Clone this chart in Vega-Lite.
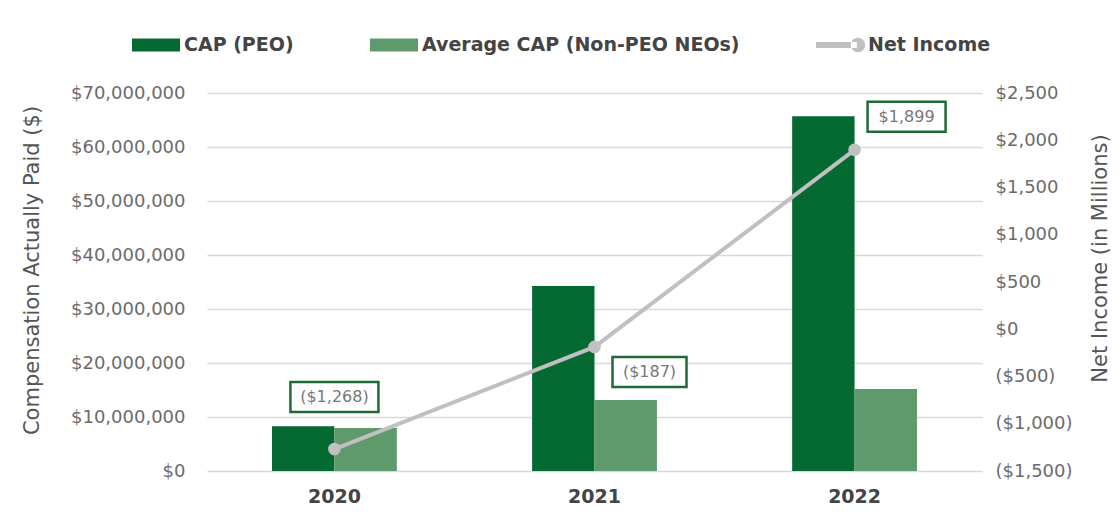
{
  "$schema": "https://vega.github.io/schema/vega-lite/v6.json",
  "width": 775,
  "height": 378,
  "autosize": {"type": "none"},
  "padding": {"left": 207, "top": 93, "right": 138, "bottom": 52},
  "background": "white",
  "config": {
    "font": "DejaVu Sans",
    "view": {"stroke": null},
    "axis": {"domain": false, "ticks": false, "labelColor": "#6b6b6b", "titleColor": "#555555", "labelFontWeight": "normal", "titleFontWeight": "normal"}
  },
  "datasets": {
    "cap": [
      {"year": "2020", "series": "CAP (PEO)", "cap": 8300000},
      {"year": "2020", "series": "Average CAP (Non-PEO NEOs)", "cap": 7950000},
      {"year": "2021", "series": "CAP (PEO)", "cap": 34250000},
      {"year": "2021", "series": "Average CAP (Non-PEO NEOs)", "cap": 13150000},
      {"year": "2022", "series": "CAP (PEO)", "cap": 65700000},
      {"year": "2022", "series": "Average CAP (Non-PEO NEOs)", "cap": 15200000}
    ],
    "ni": [
      {"year": "2020", "series": "Net Income", "ni": -1268, "label": "($1,268)"},
      {"year": "2021", "series": "Net Income", "ni": -187, "label": "($187)"},
      {"year": "2022", "series": "Net Income", "ni": 1899, "label": "$1,899"}
    ]
  },
  "layer": [
    {
      "data": {"name": "cap"},
      "mark": {"type": "bar"},
      "encoding": {
        "x": {
          "field": "year", "type": "nominal",
          "scale": {"paddingInner": 0.52, "paddingOuter": 0.25},
          "axis": {"title": null, "labelAngle": 0, "grid": false, "labelFontSize": 19, "labelFontWeight": "bold", "labelColor": "#444444", "labelPadding": 16}
        },
        "xOffset": {"field": "series", "type": "nominal", "sort": ["CAP (PEO)", "Average CAP (Non-PEO NEOs)"]},
        "y": {
          "field": "cap", "type": "quantitative",
          "scale": {"domain": [0, 70000000], "nice": false},
          "axis": {
            "orient": "left",
            "values": [0, 10000000, 20000000, 30000000, 40000000, 50000000, 60000000, 70000000],
            "labelExpr": "'$' + format(datum.value, ',')",
            "labelFontSize": 18, "labelPadding": 22,
            "grid": true, "gridColor": "#d9d9d9", "gridWidth": 1.5,
            "title": "Compensation Actually Paid ($)", "titleFontSize": 21, "titlePadding": 28, "titleY": 177
          }
        },
        "color": {
          "field": "series", "type": "nominal",
          "scale": {"domain": ["CAP (PEO)", "Average CAP (Non-PEO NEOs)", "Net Income"], "range": ["#056a31", "#5f9a6d", "#c0c0c0"]},
          "legend": {
            "orient": "none", "legendX": -75, "legendY": -72, "direction": "horizontal", "title": null,
            "labelFontSize": 19, "labelFontWeight": "bold", "labelColor": "#444444", "labelLimit": 0,
            "symbolSize": 2304, "columnPadding": 76, "labelOffset": 4,
            "encode": {
              "symbols": {
                "update": {
                  "shape": {"signal": "datum.value === 'Net Income' ? 'M-1,-0.12H0.7V0.12H-1Z M0.45,0 a0.3,0.3 0 1,0 0.6,0 a0.3,0.3 0 1,0 -0.6,0Z' : 'M-1,-0.27H1V0.27H-1Z'"},
                  "fill": {"scale": "color", "field": "value"},
                  "stroke": {"value": "transparent"},
                  "strokeWidth": {"value": 0},
                  "opacity": {"value": 1}
                }
              }
            }
          }
        }
      }
    },
    {
      "data": {"name": "ni"},
      "encoding": {
        "x": {"field": "year", "type": "nominal"},
        "y": {
          "field": "ni", "type": "quantitative",
          "scale": {"domain": [-1500, 2500], "nice": false},
          "axis": {
            "orient": "right",
            "values": [-1500, -1000, -500, 0, 500, 1000, 1500, 2000, 2500],
            "labelExpr": "datum.value < 0 ? '($' + format(-datum.value, ',') + ')' : '$' + format(datum.value, ',')",
            "labelFontSize": 18, "labelPadding": 13, "grid": false,
            "title": "Net Income (in Millions)", "titleFontSize": 21, "titleAngle": 270, "titlePadding": 38, "titleY": 165
          }
        }
      },
      "layer": [
        {
          "mark": {"type": "line", "strokeWidth": 4, "point": {"filled": true, "size": 160}},
          "encoding": {"color": {"field": "series", "type": "nominal"}}
        },
        {
          "transform": [{"filter": "datum.year == '2020'"}],
          "mark": {"type": "point", "shape": "M-2.2,-0.75H2.2V0.75H-2.2Z", "size": 1600, "filled": true, "fill": "white", "stroke": "#1f6b36", "strokeWidth": 2.5, "opacity": 1, "xOffset": 0, "yOffset": -52}
        },
        {
          "transform": [{"filter": "datum.year == '2020'"}],
          "mark": {"type": "text", "fontSize": 16, "color": "#777777", "dx": 0, "dy": -52, "align": "center", "baseline": "middle"},
          "encoding": {"text": {"field": "label"}}
        },
        {
          "transform": [{"filter": "datum.year == '2021'"}],
          "mark": {"type": "point", "shape": "M-1.85,-0.75H1.85V0.75H-1.85Z", "size": 1600, "filled": true, "fill": "white", "stroke": "#1f6b36", "strokeWidth": 2.5, "opacity": 1, "xOffset": 55, "yOffset": 25}
        },
        {
          "transform": [{"filter": "datum.year == '2021'"}],
          "mark": {"type": "text", "fontSize": 16, "color": "#777777", "dx": 55, "dy": 25, "align": "center", "baseline": "middle"},
          "encoding": {"text": {"field": "label"}}
        },
        {
          "transform": [{"filter": "datum.year == '2022'"}],
          "mark": {"type": "point", "shape": "M-1.95,-0.75H1.95V0.75H-1.95Z", "size": 1600, "filled": true, "fill": "white", "stroke": "#1f6b36", "strokeWidth": 2.5, "opacity": 1, "xOffset": 52, "yOffset": -33}
        },
        {
          "transform": [{"filter": "datum.year == '2022'"}],
          "mark": {"type": "text", "fontSize": 16, "color": "#777777", "dx": 52, "dy": -33, "align": "center", "baseline": "middle"},
          "encoding": {"text": {"field": "label"}}
        }
      ]
    }
  ],
  "resolve": {"scale": {"y": "independent"}}
}
